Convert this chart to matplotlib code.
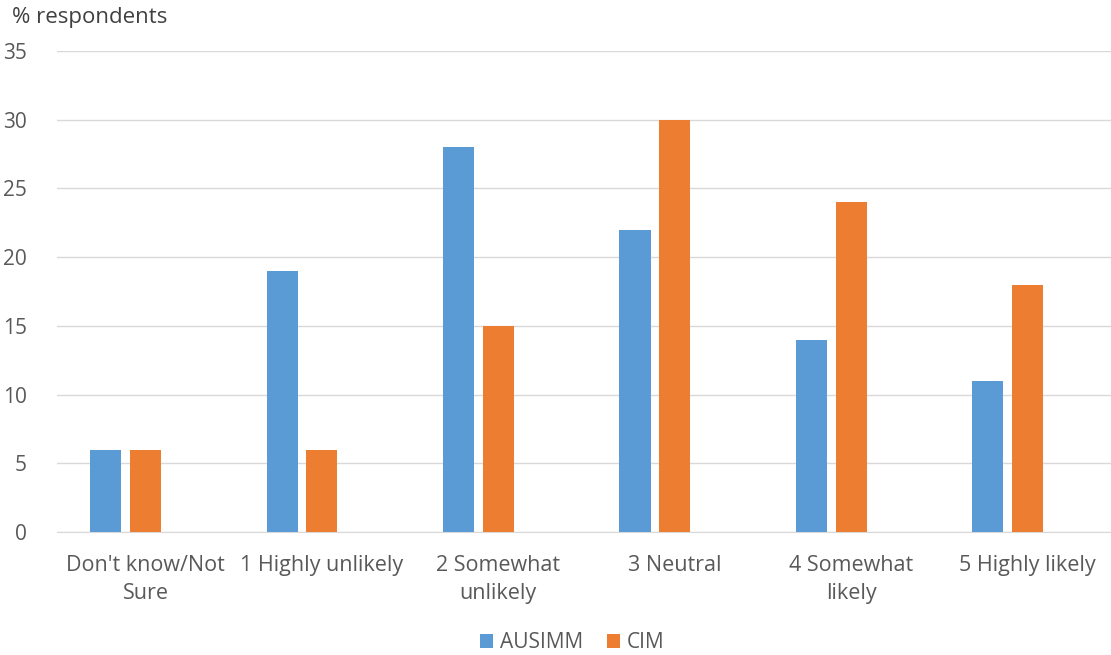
import matplotlib
matplotlib.use("Agg")
import matplotlib.pyplot as plt
import numpy as np

categories = ["Don't know/Not\nSure", "1 Highly unlikely", "2 Somewhat\nunlikely",
              "3 Neutral", "4 Somewhat\nlikely", "5 Highly likely"]
ausimm = [6, 19, 28, 22, 14, 11]
cim = [6, 6, 15, 30, 24, 18]
yticks = [0, 5, 10, 15, 20, 25, 30, 35]

plt.rcParams['font.family'] = ['Open Sans', 'DejaVu Sans']

fig = plt.figure(figsize=(11.11, 6.55), dpi=100)
left_px, right_px = 57.3, 1115.7
ax = fig.add_axes([left_px/1111, 1-532/655, (right_px-left_px)/1111, (532-51)/655])

x = np.arange(len(categories))
w = 0.176
ax.bar(x - 0.225, ausimm, width=w, color='#5B9BD5', label='AUSIMM', zorder=3)
ax.bar(x, cim, width=w, color='#ED7D31', label='CIM', zorder=3)

ax.set_xlim(-0.5, len(categories) - 0.5)
ax.set_ylim(0, 35)
ax.set_yticks(yticks)
ax.set_xticks(x)
ax.set_xticklabels(categories, fontsize=15.5, color='#595959', linespacing=1.45)
ax.tick_params(axis='y', labelsize=15, labelcolor='#595959', length=0, pad=22)
ax.tick_params(axis='x', length=0, pad=16.5)
ax.yaxis.grid(True, color='#D9D9D9', linewidth=1, zorder=0)
for s in ['top', 'right', 'left']:
    ax.spines[s].set_visible(False)
ax.spines['bottom'].set_color('#D9D9D9')

fig.text(12/1111, 1-18/655, '% respondents', fontsize=16, color='#404040', va='center', ha='left')

fig.legend(loc='center', bbox_to_anchor=(572/1111, 1-643/655), ncol=2, frameon=False,
           fontsize=15, labelcolor='#595959', handlelength=0.65, handleheight=0.65,
           columnspacing=1.15, handletextpad=0.3)

fig.savefig('out.png', dpi=100)
